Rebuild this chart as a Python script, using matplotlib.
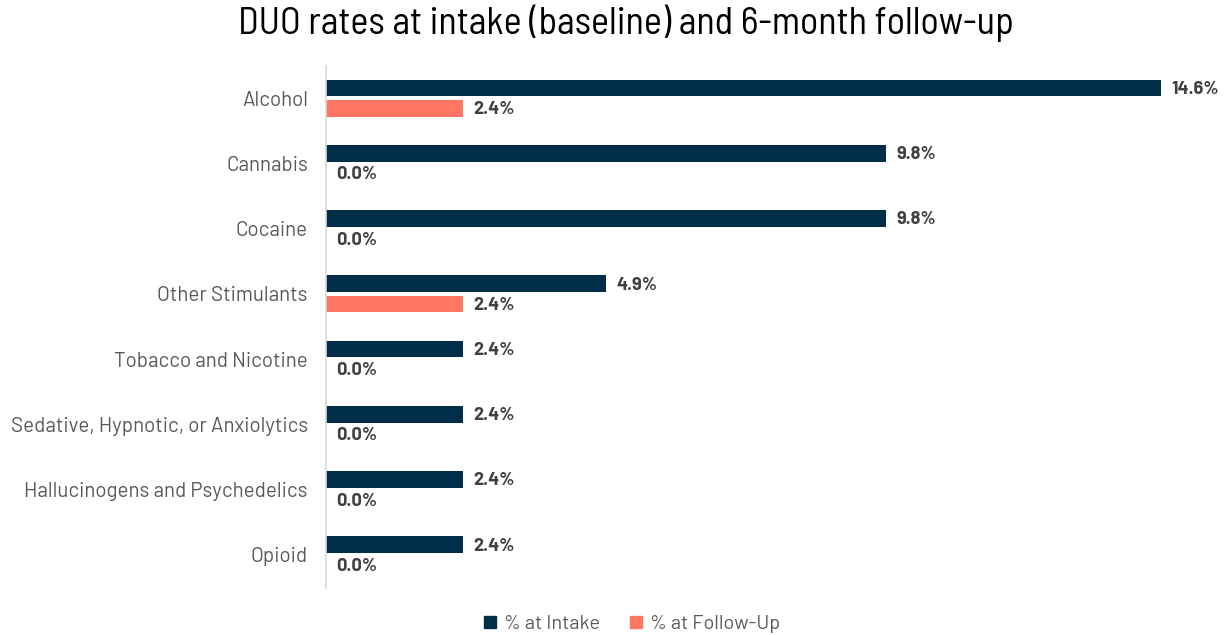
import matplotlib
matplotlib.use("Agg")
import matplotlib.pyplot as plt
from matplotlib.patches import Patch

categories = ["Alcohol", "Cannabis", "Cocaine", "Other Stimulants",
              "Tobacco and Nicotine", "Sedative, Hypnotic, or Anxiolytics",
              "Hallucinogens and Psychedelics", "Opioid"]
intake = [14.6, 9.8, 9.8, 4.9, 2.4, 2.4, 2.4, 2.4]
followup = [2.4, 0.0, 0.0, 2.4, 0.0, 0.0, 0.0, 0.0]
series_names = ["% at Intake", "% at Follow-Up"]
title = "DUO rates at intake (baseline) and 6-month follow-up"

c_intake = "#002D47"
c_follow = "#FF7663"
fam_title = "Barlow Semi Condensed"
fam = "Barlow"

fig = plt.figure(figsize=(12.25, 6.35), dpi=100)
ax = fig.add_axes([326/1225, 1-587.5/635, (1161-326)/1225, (587.5-65.5)/635])

y = list(range(len(categories)))
off = 0.155
h = 0.26
ax.barh([v - off for v in y], intake, height=h, color=c_intake)
ax.barh([v + off for v in y], followup, height=h, color=c_follow)

for i, (a, b) in enumerate(zip(intake, followup)):
    for val, yy in ((a, i - off), (b, i + off)):
        ax.annotate(f"{val:.1f}%", (val, yy), xytext=(7.5, -1), textcoords="offset points",
                    va="center", ha="left", fontsize=13.2, fontweight="bold",
                    color="#404040", family=fam, annotation_clip=False)

ax.set_xlim(0, 14.6)
ax.set_ylim(len(categories) - 0.5, -0.5)
ax.set_yticks(y)
ax.set_yticklabels(categories, fontsize=14.8, color="#595959", family=fam)
ax.tick_params(axis="y", length=0, pad=13)
ax.set_xticks([])
for s in ["top", "right", "bottom"]:
    ax.spines[s].set_visible(False)
ax.spines["left"].set_color("#D9D9D9")
ax.spines["left"].set_linewidth(1.2)

fig.text(626/1225, 1-23/635, title,
         ha="center", va="center", fontsize=27.5, family=fam_title, color="black")

handles = [Patch(color=c_intake), Patch(color=c_follow)]
fig.legend(handles, series_names, loc="center", bbox_to_anchor=(632/1225, 1-624/635),
           ncol=2, frameon=False, prop={"family": fam, "size": 14.3},
           handlelength=0.6, handleheight=0.6, handletextpad=0.4, columnspacing=1.5,
           labelcolor="#595959")

fig.savefig("out.png", dpi=100)
